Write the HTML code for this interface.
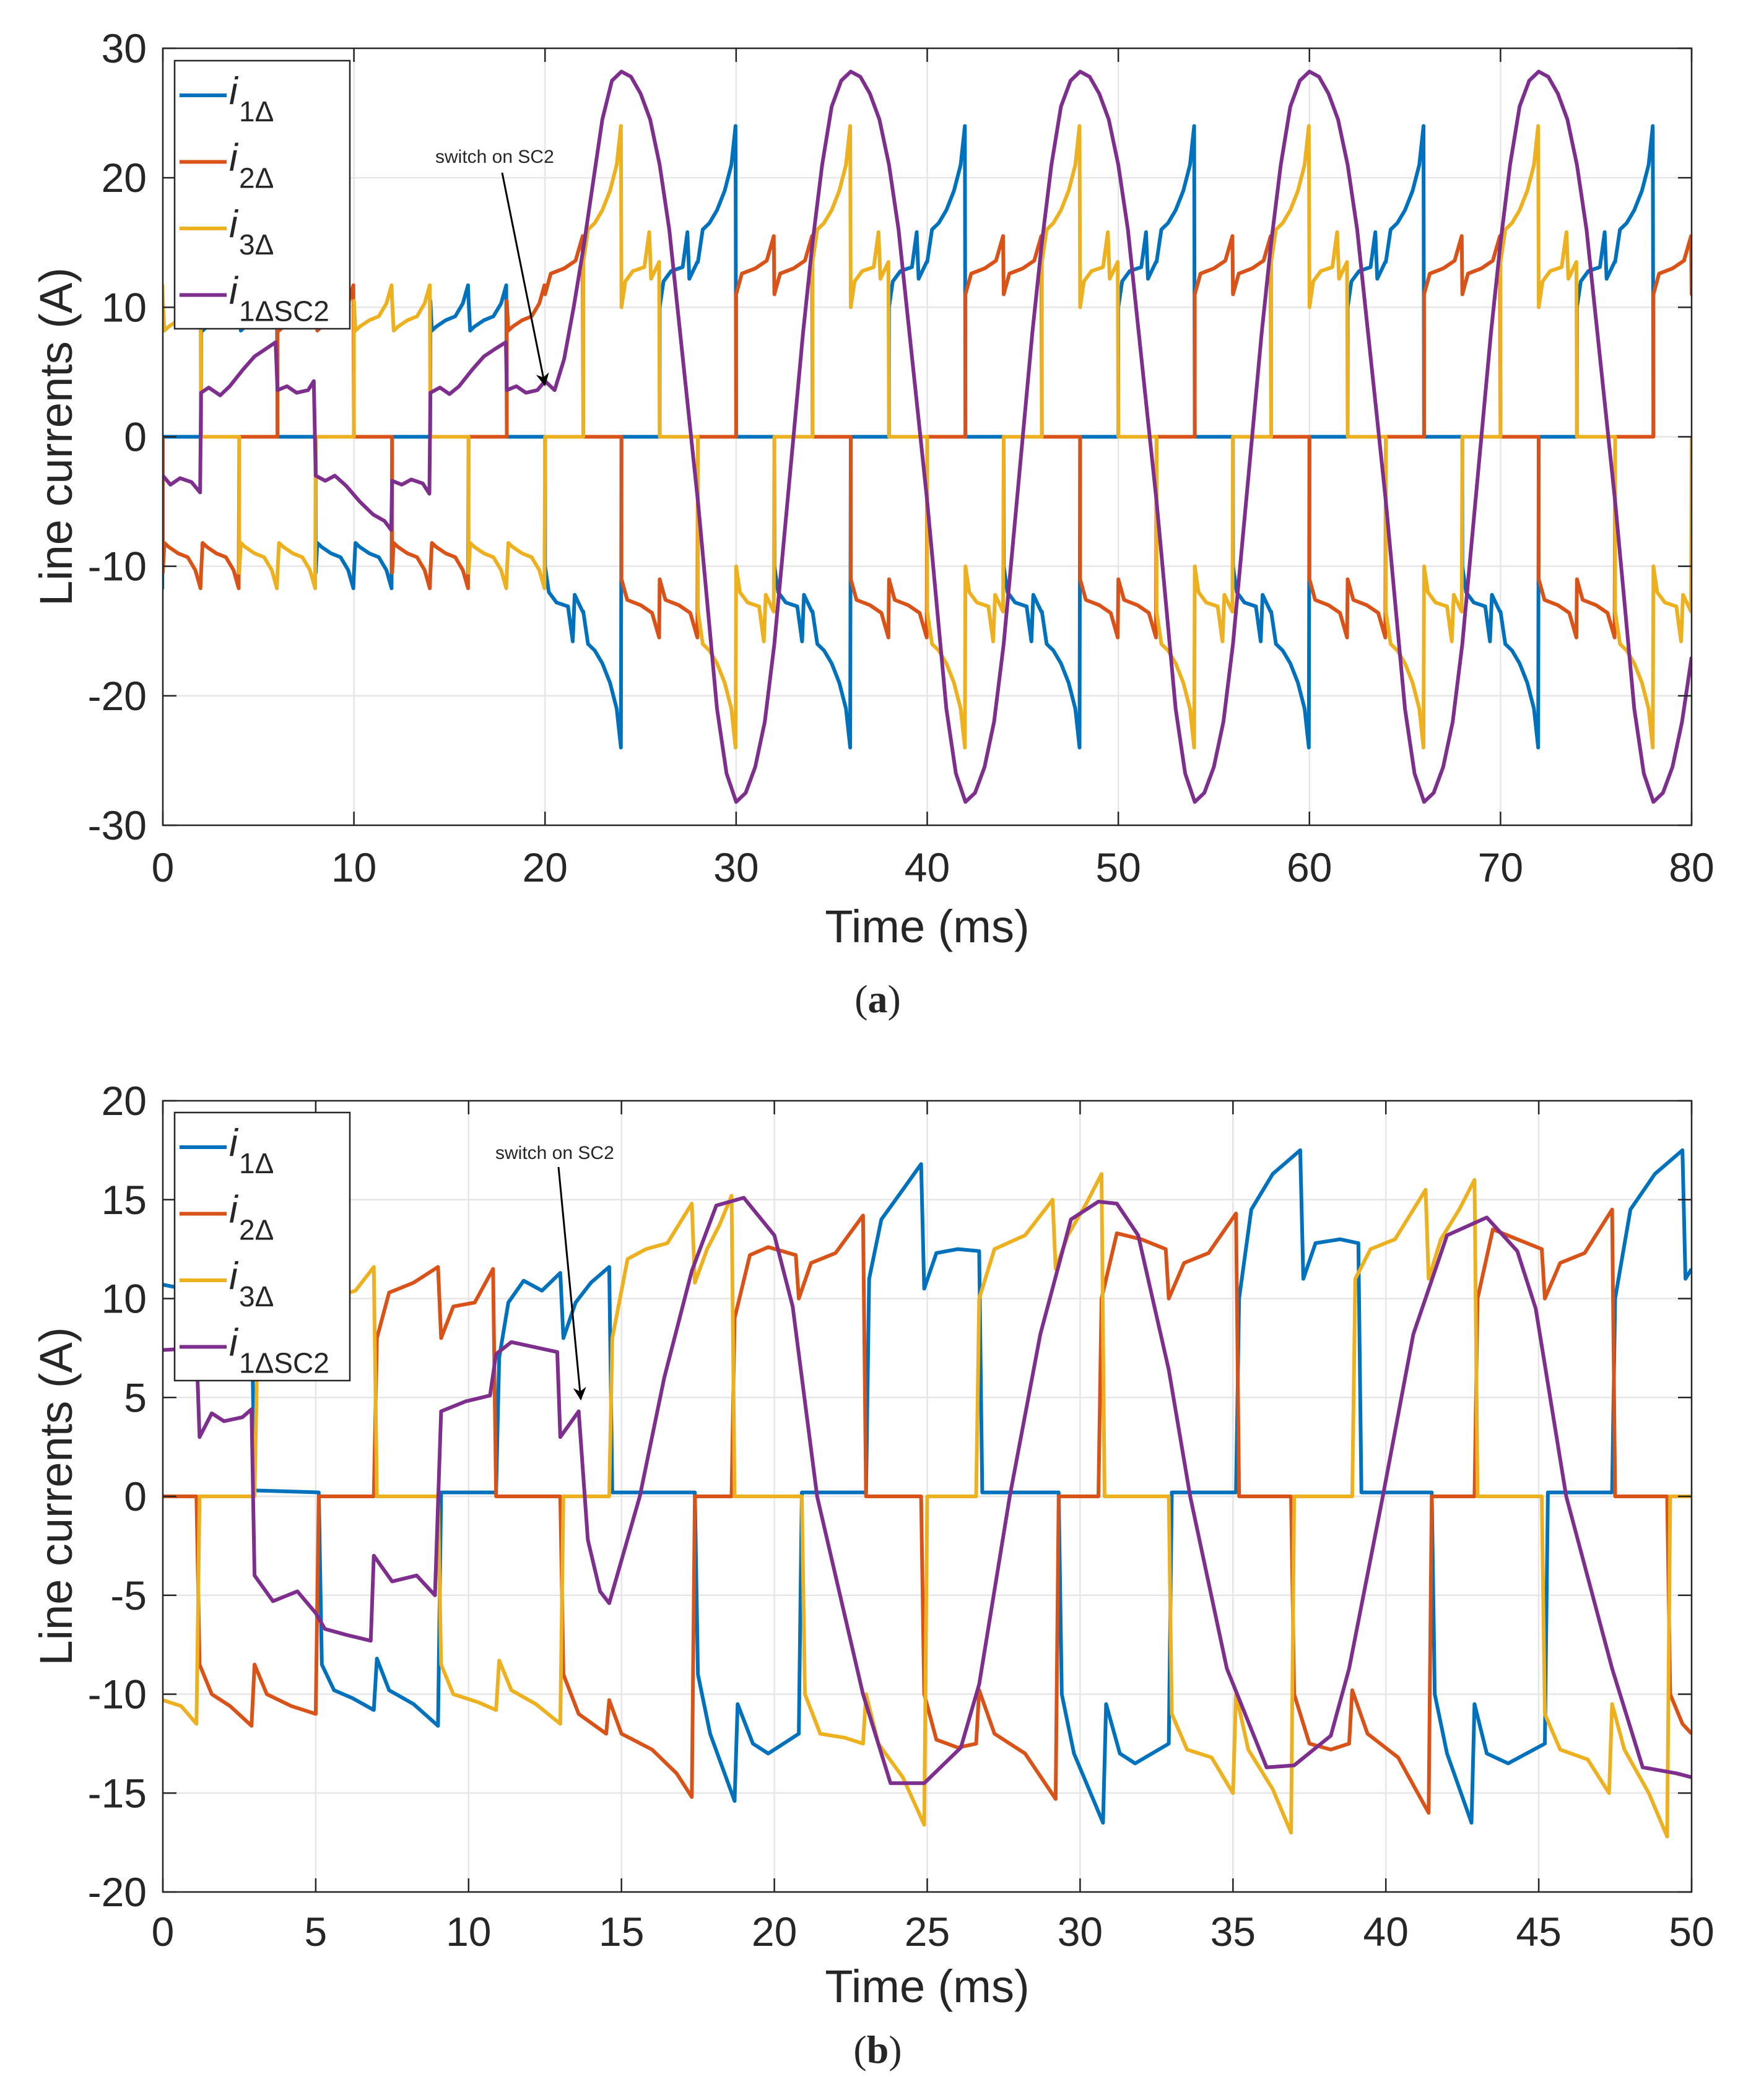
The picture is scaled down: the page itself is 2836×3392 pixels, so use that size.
<!DOCTYPE html>
<html><head><meta charset="utf-8">
<style>
html,body{margin:0;padding:0;background:#fff;}
svg{display:block;}
text{font-family:"Liberation Sans",sans-serif;fill:#262626;}
</style></head>
<body>
<svg id="fig" width="2836" height="3392" viewBox="0 0 2836 3392" xmlns="http://www.w3.org/2000/svg">
<defs>
<clipPath id="clipA"><rect x="263" y="78" width="2469" height="1255"/></clipPath>
<clipPath id="clipB"><rect x="263" y="1778" width="2469" height="1278"/></clipPath>
<marker id="arr" viewBox="0 0 10 10" refX="9" refY="5" markerWidth="7" markerHeight="7" orient="auto"><path d="M0,0 L10,5 L0,10 L3,5 z" fill="#000"/></marker>
</defs>
</svg>
<script>
// ---------- Panel (a) data ----------
const aXTicks = [0,10,20,30,40,50,60,70,80];
const aYTicks = [30,20,10,0,-10,-20,-30];
// half-pulse shapes [relative ms, magnitude A]
const shapeH = [[0,10.5],[0.08,8.2],[0.3,8.5],[0.8,9],[1.3,9.3],[1.7,10.3],[1.97,11.7]];
const shapeP = [[0,10],[0.2,12],[0.6,12.8],[1.2,13.1],[1.45,15.8],[1.55,12.2],[1.97,13.5]];
const shapeR = [[0,13.5],[0.25,16],[0.6,16.5],[1.0,17.5],[1.4,19],[1.75,21],[1.97,24]];
const shapeQ = [[0,11],[0.3,12.6],[1.0,13],[1.6,13.6],[1.97,15.5]];
// pulses: [start ms, sign, first-half shape, second-half shape]
const aBluePulses = [[-4,-1,'H','H'],[2,1,'H','H'],[8,-1,'H','H'],[14,1,'H','H'],[20,-1,'P','R'],[26,1,'P','R'],[32,-1,'P','R'],[38,1,'P','R'],[44,-1,'P','R'],[50,1,'P','R'],[56,-1,'P','R'],[62,1,'P','R'],[68,-1,'P','R'],[74,1,'P','R']];
const aOrangePulses = [[0,-1,'H','H'],[6,1,'H','H'],[12,-1,'H','H'],[18,1,'H','Q'],[24,-1,'Q','Q'],[30,1,'Q','Q'],[36,-1,'Q','Q'],[42,1,'Q','Q'],[48,-1,'Q','Q'],[54,1,'Q','Q'],[60,-1,'Q','Q'],[66,1,'Q','Q'],[72,-1,'Q','Q'],[78,1,'Q','Q']];
const aYellowPulses = [[-2,1,'H','H'],[4,-1,'H','H'],[10,1,'H','H'],[16,-1,'H','H'],[22,1,'R','P'],[28,-1,'R','P'],[34,1,'R','P'],[40,-1,'R','P'],[46,1,'R','P'],[52,-1,'R','P'],[58,1,'R','P'],[64,-1,'R','P'],[70,1,'R','P'],[76,-1,'R','P']];
const aPurple = [[0,-3],[0.4,-3.7],[0.9,-3.2],[1.5,-3.5],[1.95,-4.3],[2.0,3.4],[2.4,3.8],[3.0,3.2],[3.5,3.9],[4.2,5.2],[4.8,6.2],[5.4,6.8],[5.9,7.3],[6.0,3.6],[6.5,3.9],[7.0,3.4],[7.6,3.6],[7.9,4.3],[8.0,-3],[8.5,-3.4],[9.0,-3],[9.6,-3.8],[10.3,-5],[11.0,-6],[11.6,-6.5],[11.95,-7.2],[12.0,-3.4],[12.5,-3.7],[13.0,-3.3],[13.6,-3.6],[13.95,-4.4],[14.0,3.4],[14.5,3.8],[15.0,3.3],[15.5,3.9],[16.2,5.2],[16.8,6.2],[17.4,6.8],[17.95,7.3],[18.0,3.6],[18.5,3.9],[19.0,3.4],[19.6,3.6],[20.0,4.3],[20.5,3.6],[21.0,6],[21.5,10],[22,14.5],[22.5,19.5],[23,24.5],[23.5,27.5],
[24,28.2],[24.5,27.8],[25,26.5],[25.5,24.5],[26,21],[26.5,16],[27,9],[27.5,2],[28,-5],[28.5,-13],[29,-21],[29.5,-26],[30,-28.2],[30.5,-27.5],[31,-25.5],[31.5,-22],[32,-16],[32.5,-8],[33,0],[33.5,8],[34,15],[34.5,21],[35,25.5],[35.5,27.5],
[36,28.2],[36.5,27.8],[37,26.5],[37.5,24.5],[38,21],[38.5,16],[39,9],[39.5,2],[40,-5],[40.5,-13],[41,-21],[41.5,-26],[42,-28.2],[42.5,-27.5],[43,-25.5],[43.5,-22],[44,-16],[44.5,-8],[45,0],[45.5,8],[46,15],[46.5,21],[47,25.5],[47.5,27.5],
[48,28.2],[48.5,27.8],[49,26.5],[49.5,24.5],[50,21],[50.5,16],[51,9],[51.5,2],[52,-5],[52.5,-13],[53,-21],[53.5,-26],[54,-28.2],[54.5,-27.5],[55,-25.5],[55.5,-22],[56,-16],[56.5,-8],[57,0],[57.5,8],[58,15],[58.5,21],[59,25.5],[59.5,27.5],
[60,28.2],[60.5,27.8],[61,26.5],[61.5,24.5],[62,21],[62.5,16],[63,9],[63.5,2],[64,-5],[64.5,-13],[65,-21],[65.5,-26],[66,-28.2],[66.5,-27.5],[67,-25.5],[67.5,-22],[68,-16],[68.5,-8],[69,0],[69.5,8],[70,15],[70.5,21],[71,25.5],[71.5,27.5],
[72,28.2],[72.5,27.8],[73,26.5],[73.5,24.5],[74,21],[74.5,16],[75,9],[75.5,2],[76,-5],[76.5,-13],[77,-21],[77.5,-26],[78,-28.2],[78.5,-27.5],[79,-25.5],[79.5,-22],[80,-17]];

// ---------- Panel (b) data ----------
const bXTicks = [0,5,10,15,20,25,30,35,40,45,50];
const bYTicks = [20,15,10,5,0,-5,-10,-15,-20];
const bBlue = [[0,10.7],[1,10.4],[2.9,10],[3.0,0.3],[5.1,0.2],[5.2,-8.5],[5.6,-9.8],[6.2,-10.2],[6.9,-10.8],[7.0,-8.2],[7.4,-9.8],[8.2,-10.5],[9.0,-11.6],[9.1,0.2],[10.9,0.2],[11.0,7],[11.3,9.8],[11.8,10.9],[12.4,10.4],[13.0,11.3],[13.1,8],[13.5,9.8],[14.0,10.8],[14.6,11.6],[14.7,0.2],[17.4,0.2],[17.5,-9],[17.9,-12],[18.7,-15.4],[18.8,-10.5],[19.3,-12.5],[19.8,-13],[20.3,-12.5],[20.8,-12],[20.9,0.2],[23.0,0.2],[23.1,11],[23.5,14],[24.2,15.5],[24.8,16.8],[24.9,10.5],[25.3,12.3],[26,12.5],[26.7,12.4],[26.8,0.2],[29.3,0.2],[29.4,-10],[29.8,-13],[30.75,-16.5],[30.85,-10.5],[31.3,-13],[31.8,-13.5],[32.9,-12.5],[33.0,0.2],[35.1,0.2],[35.2,10],[35.6,14.5],[36.3,16.3],[37.2,17.5],[37.3,11],[37.7,12.8],[38.5,13],[39.1,12.8],[39.2,0.2],[41.5,0.2],[41.6,-10],[42,-13],[42.8,-16.5],[42.9,-10.5],[43.3,-13],[44,-13.5],[45.2,-12.5],[45.3,0.2],[47.4,0.2],[47.5,10],[48,14.5],[48.8,16.3],[49.7,17.5],[49.8,11],[50,11.5]];
const bOrange = [[0,0],[1.1,0],[1.2,-8.5],[1.6,-10],[2.2,-10.6],[2.9,-11.6],[3.0,-8.5],[3.4,-10],[4.2,-10.6],[5.0,-11],[5.1,0],[6.9,0],[7.0,8],[7.4,10.3],[8.2,10.8],[9.0,11.6],[9.1,8],[9.5,9.6],[10.2,9.8],[10.8,11.5],[10.9,0],[13.0,0],[13.1,-9],[13.6,-11],[14.5,-12],[14.6,-10.3],[15,-12],[16,-12.8],[16.8,-14],[17.3,-15.2],[17.4,0],[18.6,0],[18.7,9],[19.2,12.2],[19.8,12.6],[20.7,12.2],[20.8,10],[21.2,11.8],[22,12.3],[22.9,14.2],[23.0,0],[24.8,0],[24.9,-10],[25.3,-12.3],[26.0,-12.7],[26.6,-12.5],[26.7,-9.8],[27.2,-12],[28.2,-13],[29.2,-15.3],[29.3,0],[30.6,0],[30.7,10],[31.2,13.3],[32,13],[32.8,12.5],[32.9,10],[33.4,11.8],[34.2,12.3],[35.1,14.3],[35.2,0],[36.9,0],[37.0,-10],[37.5,-12.5],[38.2,-12.8],[38.8,-12.5],[38.9,-9.8],[39.4,-12],[40.4,-13.2],[41.4,-16],[41.5,0],[42.9,0],[43,10],[43.5,13.5],[44.3,13],[45.1,12.5],[45.2,10],[45.7,11.8],[46.5,12.3],[47.4,14.5],[47.5,0],[49.2,0],[49.3,-10],[49.7,-11.5],[50,-12]];
const bYellow = [[0,-10.3],[0.6,-10.6],[1.1,-11.5],[1.2,0],[3.0,0],[3.1,8],[3.5,9.8],[4.5,10],[5.0,10.2],[5.1,9.5],[5.5,10],[6.3,10.4],[6.9,11.6],[7.0,0],[9.0,0],[9.1,-8.5],[9.5,-10],[10.3,-10.4],[10.9,-10.8],[11.0,-8.3],[11.4,-9.8],[12.2,-10.5],[13.0,-11.5],[13.1,0],[14.6,0],[14.7,8],[15.2,12],[15.8,12.5],[16.5,12.8],[17.3,14.8],[17.4,10.8],[17.8,12.5],[18.2,13.7],[18.6,15.2],[18.7,0],[20.9,0],[21.0,-10],[21.5,-12],[22.3,-12.2],[22.9,-12.5],[23.0,-10],[23.4,-12.5],[24.2,-14.2],[24.9,-16.6],[25.0,0],[26.6,0],[26.7,10],[27.2,12.5],[28.2,13.2],[29.1,15],[29.2,11.5],[29.6,13.2],[30.2,14.8],[30.7,16.3],[30.8,0],[32.9,0],[33.0,-11],[33.5,-12.8],[34.3,-13.2],[35.0,-15],[35.1,-10],[35.5,-12.8],[36.3,-14.8],[36.9,-17],[37.0,0],[38.9,0],[39.0,11],[39.5,12.5],[40.3,13],[41.3,15.5],[41.4,11],[41.8,13],[42.4,14.5],[42.9,16],[43.0,0],[45.1,0],[45.2,-11],[45.7,-12.8],[46.6,-13.3],[47.3,-15],[47.4,-10.5],[47.8,-12.8],[48.6,-15],[49.2,-17.2],[49.3,0],[50,0]];
const bPurple = [[0,7.4],[1.1,7.5],[1.2,3],[1.6,4.2],[2.0,3.8],[2.6,4.0],[2.9,4.4],[3.0,-4],[3.6,-5.3],[4.4,-4.8],[5.0,-5.9],[5.3,-6.7],[6.0,-7],[6.8,-7.3],[6.9,-3],[7.5,-4.3],[8.3,-4],[8.9,-5],[9.1,4.3],[9.9,4.8],[10.7,5.1],[10.9,7.2],[11.4,7.8],[12.9,7.3],[13.0,3],[13.6,4.3],[13.9,-2.2],[14.3,-4.8],[14.6,-5.4],[15.6,0],[16.4,6],[17.3,11.4],[18.1,14.7],[19.0,15.1],[20.0,13.2],[20.6,9.6],[21.4,0],[22.9,-10],[23.8,-14.5],[24.9,-14.5],[26.1,-12.7],[26.7,-9.5],[27.7,0],[28.7,8.2],[29.7,14],[30.6,14.9],[31.2,14.8],[31.9,13.2],[32.9,6.4],[33.6,0],[34.8,-8.7],[36.1,-13.7],[37.0,-13.6],[38.2,-12.1],[38.8,-8.7],[39.9,0],[40.9,8.2],[42.0,13.2],[43.3,14.1],[44.3,12.4],[44.9,9.5],[45.9,0],[47.4,-8.7],[48.4,-13.7],[49.5,-14],[50,-14.2]];

// ---------- rendering ----------
const NS = 'http://www.w3.org/2000/svg';
const svg = document.getElementById('fig');
const COL = {blue:'#0072BD', orange:'#D95319', yellow:'#EDB120', purple:'#7E2F8E'};
const shapes = {H:shapeH, P:shapeP, R:shapeR, Q:shapeQ};
function el(tag, attrs, parent){const e=document.createElementNS(NS,tag);for(const k in attrs)e.setAttribute(k,attrs[k]);(parent||svg).appendChild(e);return e;}
function pulsesToPoints(pulses){
  const pts=[];
  pulses.forEach(p=>{
    const [s,sg,a,b]=p;
    pts.push([s,0]);
    shapes[a].forEach(q=>pts.push([s+q[0],sg*q[1]]));
    shapes[b].forEach(q=>pts.push([s+2+q[0],sg*q[1]]));
    pts.push([s+4,0]);
  });
  return pts;
}
function panel(cfg){
  const {x0,x1,yTop,yBot,xmin,xmax,ymin,ymax,xTicks,yTicks,clip,tag}=cfg;
  const sx=t=>x0+(t-xmin)/(xmax-xmin)*(x1-x0);
  const sy=v=>yBot-(v-ymin)/(ymax-ymin)*(yBot-yTop);
  const g=el('g',{});
  
  
  el('rect',{x:x0,y:yTop,width:x1-x0,height:yBot-yTop,fill:'#fff'},g);
  xTicks.forEach(t=>{
    const l=el('line',{x1:sx(t),x2:sx(t),y1:yTop,y2:yBot,stroke:'#e6e6e6','stroke-width':2.5},g);
    
    
  });
  yTicks.forEach(v=>{
    const l=el('line',{x1:x0,x2:x1,y1:sy(v),y2:sy(v),stroke:'#e6e6e6','stroke-width':2.5},g);
    
    
  });
  cfg.series.forEach(s=>{
    const d=s.pts.map((p,i)=>(i?'L':'M')+sx(p[0]).toFixed(1)+','+sy(p[1]).toFixed(1)).join('');
    const path=el('path',{d:d,fill:'none',stroke:s.color,'stroke-width':6,'stroke-linejoin':'round','clip-path':'url(#'+clip+')'},g);
    
    
  });
  const box=el('rect',{x:x0,y:yTop,width:x1-x0,height:yBot-yTop,fill:'none',stroke:'#262626','stroke-width':2.5},g);
  
  
  xTicks.forEach(t=>{
    el('line',{x1:sx(t),x2:sx(t),y1:yBot,y2:yBot-22,stroke:'#262626','stroke-width':2.5},g);
    el('line',{x1:sx(t),x2:sx(t),y1:yTop,y2:yTop+22,stroke:'#262626','stroke-width':2.5},g);
    const tx=el('text',{x:sx(t),y:cfg.xLabelY,'font-size':66,'text-anchor':'middle'},g);
    tx.textContent=t;
    
    
  });
  yTicks.forEach(v=>{
    el('line',{x1:x0,x2:x0+22,y1:sy(v),y2:sy(v),stroke:'#262626','stroke-width':2.5},g);
    el('line',{x1:x1,x2:x1-22,y1:sy(v),y2:sy(v),stroke:'#262626','stroke-width':2.5},g);
    const tx=el('text',{x:x0-26,y:sy(v)+23,'font-size':66,'text-anchor':'end'},g);
    tx.textContent=v;
    
    
  });
  const yt=el('text',{x:0,y:0,'font-size':74,'text-anchor':'middle',transform:'translate(116,'+((yTop+yBot)/2)+') rotate(-90)'},g);
  yt.textContent='Line currents (A)';
  
  
  const xt=el('text',{x:(x0+x1)/2,y:cfg.xTitleY,'font-size':74,'text-anchor':'middle'},g);
  xt.textContent='Time (ms)';
  
  
  // legend
  const lg=el('g',{},g);
  
  
  el('rect',{x:282,y:cfg.legTop,width:283,height:433,fill:'#fff',stroke:'#262626','stroke-width':2.5},lg);
  const labels=[['blue','1Δ'],['orange','2Δ'],['yellow','3Δ'],['purple','1ΔSC2']];
  labels.forEach((lb,i)=>{
    const ly=cfg.legTop+56+i*107.5;
    const ent=el('g',{},lg);
    
    
    el('line',{x1:290,x2:366,y1:ly,y2:ly,stroke:COL[lb[0]],'stroke-width':6},ent);
    const t=el('text',{x:370,y:ly+14,'font-size':62,'font-style':'italic',fill:'#000'},ent);
    t.textContent='i';
    const s=el('text',{x:386,y:ly+42,'font-size':46,fill:'#000'},ent);
    s.textContent=lb[1];
  });
  // annotation
  const an=el('g',{},g);
  
  
  const at=el('text',{x:cfg.ann.tx,y:cfg.ann.ty,'font-size':30,fill:'#000'},an);
  at.textContent='switch on SC2';
  el('line',{x1:cfg.ann.ax1,y1:cfg.ann.ay1,x2:cfg.ann.ax2,y2:cfg.ann.ay2,stroke:'#000','stroke-width':3,'marker-end':'url(#arr)'},an);
  // caption
  const cap=el('text',{x:(x0+x1)/2-80,y:cfg.capY,'font-size':64,'text-anchor':'middle',style:'font-family:"Liberation Serif",serif',fill:'#000'},g);
  cap.innerHTML='(<tspan font-weight="bold">'+tag+'</tspan>)';
  
  
}
panel({tag:'a',x0:263,x1:2732,yTop:78,yBot:1333,xmin:0,xmax:80,ymin:-30,ymax:30,xTicks:aXTicks,yTicks:aYTicks,clip:'clipA',
  xLabelY:1424,xTitleY:1522,capY:1635,legTop:98,
  ann:{tx:703,ty:263,ax1:811,ay1:279,ax2:880,ay2:622},
  series:[{name:'i1-delta',color:COL.blue,pts:pulsesToPoints(aBluePulses)},
          {name:'i2-delta',color:COL.orange,pts:pulsesToPoints(aOrangePulses)},
          {name:'i3-delta',color:COL.yellow,pts:pulsesToPoints(aYellowPulses)},
          {name:'i1-delta-sc2',color:COL.purple,pts:aPurple}]});
panel({tag:'b',x0:263,x1:2732,yTop:1778,yBot:3056,xmin:0,xmax:50,ymin:-20,ymax:20,xTicks:bXTicks,yTicks:bYTicks,clip:'clipB',
  xLabelY:3143,xTitleY:3234,capY:3332,legTop:1797,
  ann:{tx:800,ty:1872,ax1:902,ay1:1885,ax2:938,ay2:2260},
  series:[{name:'i1-delta',color:COL.blue,pts:bBlue},
          {name:'i2-delta',color:COL.orange,pts:bOrange},
          {name:'i3-delta',color:COL.yellow,pts:bYellow},
          {name:'i1-delta-sc2',color:COL.purple,pts:bPurple}]});
</script>
</body></html>
